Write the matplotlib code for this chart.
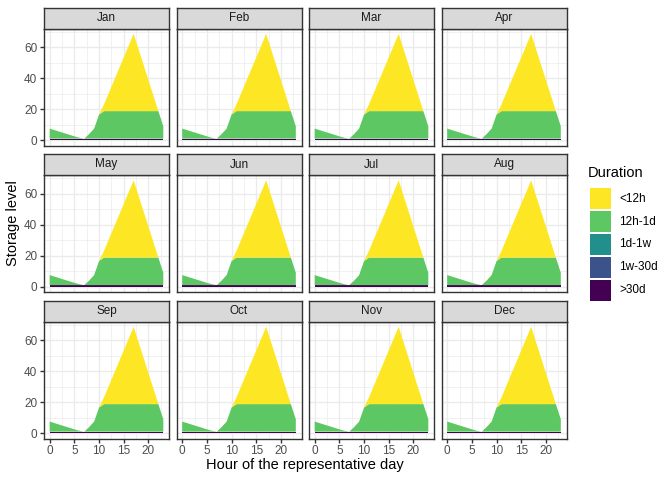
import matplotlib
matplotlib.use('Agg')
import matplotlib.pyplot as plt
from matplotlib.patches import Rectangle

plt.rcParams['font.family'] = ['Liberation Sans', 'DejaVu Sans']

# data (same daily profile in every month)
months = ['Jan', 'Feb', 'Mar', 'Apr', 'May', 'Jun',
          'Jul', 'Aug', 'Sep', 'Oct', 'Nov', 'Dec']
hours = [0, 1, 2, 3, 4, 5, 6, 7, 8, 9, 10, 11,
         12, 13, 14, 15, 16, 17, 18, 19, 20, 21, 22, 23]
durations = ['<12h', '12h-1d', '1d-1w', '1w-30d', '>30d']
dur_colors = ['#FDE725', '#5DC863', '#21908C', '#3B528B', '#440154']

lt12h = [0, 0, 0, 0, 0, 0, 0, 0, 0, 0, 0, 4.4,
         12, 19.6, 27.2, 34.8, 42.4, 50, 40, 30, 20, 10, 0, 0]
h12_1d = [6.5, 5.5, 4.5, 3.5, 2.5, 1.5, 0.6, 0.0, 3.0, 6.5, 15.6, 17.8,
          17.8, 17.8, 17.8, 17.8, 17.8, 17.8, 17.8, 17.8, 17.8, 17.8, 17.8, 8.0]
d1_1w = [0, 0, 0, 0, 0, 0, 0, 0, 0, 0, 0, 0,
         0, 0, 0, 0, 0, 0, 0, 0, 0, 0, 0, 0]
w1_30d = [0, 0, 0, 0, 0, 0, 0, 0, 0, 0, 0, 0,
          0, 0, 0, 0, 0, 0, 0, 0, 0, 0, 0, 0]
gt30d = [1.0, 1.0, 1.0, 1.0, 1.0, 1.0, 1.0, 1.0, 1.0, 1.0, 1.0, 1.0,
         1.0, 1.0, 1.0, 1.0, 1.0, 1.0, 1.0, 1.0, 1.0, 1.0, 1.0, 1.0]

W, H = 672, 480
fig = plt.figure(figsize=(W / 100, H / 100), dpi=100)


def box(x0, y0, x1, y1):
    # pixel box, origin top left -> figure coords
    return [x0 / W, 1 - y1 / H, (x1 - x0) / W, (y1 - y0) / H]


border = '#333333'
for i, m in enumerate(months):
    r, c = divmod(i, 4)
    x0 = 44 + c * 132.5
    x1 = x0 + 125
    st = 7.5 + r * 146.5
    sb = st + 21
    pb = sb + 117

    ax = fig.add_axes(box(x0, sb, x1, pb))
    ax.stackplot(hours, gt30d, w1_30d, d1_1w, h12_1d, lt12h,
                 colors=dur_colors[::-1], linewidth=0)
    ax.set_xlim(-1.15, 24.15)
    ax.set_ylim(-3.44, 72.24)
    ax.set_xticks([0, 5, 10, 15, 20])
    ax.set_xticks([2.5, 7.5, 12.5, 17.5, 22.5], minor=True)
    ax.set_yticks([0, 20, 40, 60])
    ax.set_yticks([10, 30, 50, 70], minor=True)
    ax.grid(which='major', color='#EBEBEB', linewidth=1.0)
    ax.grid(which='minor', color='#EBEBEB', linewidth=0.5)
    ax.set_axisbelow(True)
    for s in ax.spines.values():
        s.set_color(border)
        s.set_linewidth(1.0)
    ax.tick_params(which='minor', length=0)
    ax.tick_params(which='major', length=2.64, width=1.0, color=border,
                   labelsize=8.45, labelcolor='#4D4D4D', pad=2.1)
    if c != 0:
        ax.tick_params(axis='y', left=False, labelleft=False)
    if r != 2:
        ax.tick_params(axis='x', bottom=False, labelbottom=False)

    sax = fig.add_axes(box(x0, st, x1, sb))
    sax.set_facecolor('#D9D9D9')
    sax.set_xticks([])
    sax.set_yticks([])
    for s in sax.spines.values():
        s.set_color(border)
        s.set_linewidth(1.0)
    sax.text(0.5, 0.5, m, ha='center', va='center', fontsize=8.45,
             color='#1A1A1A', transform=sax.transAxes)

# axis titles
fig.text(305 / W, 1 - 465 / H, 'Hour of the representative day',
         ha='center', va='center', fontsize=10.56)
fig.text(13 / W, 1 - 223 / H, 'Storage level', rotation=90,
         ha='center', va='center', fontsize=10.56)

# legend
fig.text(588 / W, 1 - 173 / H, 'Duration', ha='left', va='center',
         fontsize=10.56)
for k, (lab, col) in enumerate(zip(durations, dur_colors)):
    top = 188.3 + k * 22.9
    fig.add_artist(Rectangle((590 / W, 1 - (top + 20.7) / H), 20.7 / W,
                             20.7 / H, facecolor=col, edgecolor='none',
                             transform=fig.transFigure))
    fig.text(619 / W, 1 - (top + 10.35) / H, lab, ha='left', va='center',
             fontsize=8.45)

fig.savefig('out.png', dpi=100)
